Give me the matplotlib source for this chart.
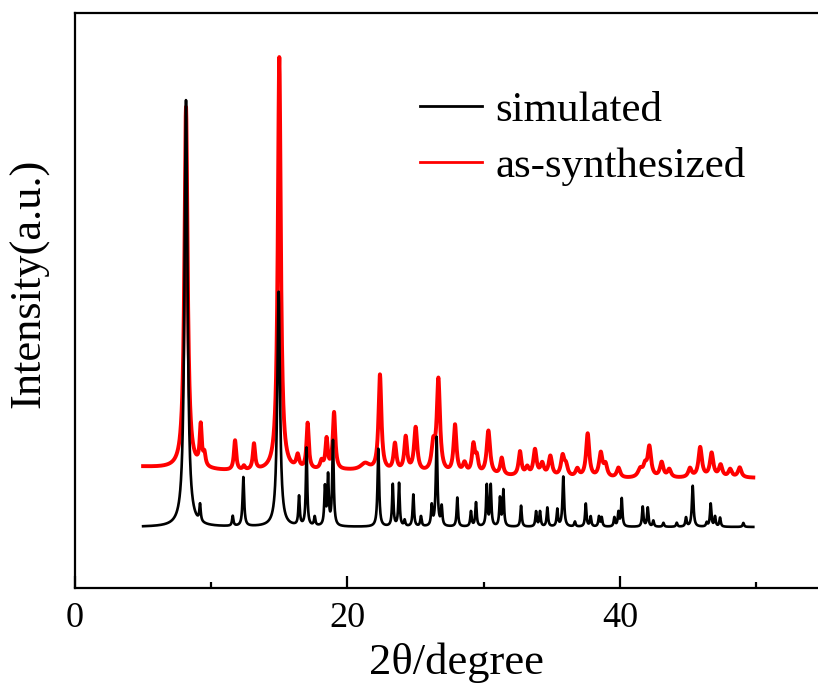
import numpy as np
import matplotlib
matplotlib.use("Agg")
import matplotlib.pyplot as plt

plt.rcParams['font.family'] = ['Liberation Serif', 'DejaVu Serif']

# ---- data (2theta in degrees, intensity in arbitrary units) ----
sim_pos = [8.15, 9.18, 11.58, 12.36, 14.95, 16.45, 17.0, 17.6, 18.35, 18.58, 18.94,
           22.27, 23.33, 23.79, 24.2, 24.84, 25.4, 26.19, 26.55, 26.92, 28.07, 29.07,
           29.44, 30.23, 30.52, 31.2, 31.45, 32.75, 33.85, 34.14, 34.68, 35.41, 35.85,
           36.7, 37.5, 37.86, 38.47, 38.67, 39.6, 39.9, 40.14, 41.68, 42.05, 42.46,
           43.2, 44.18, 44.86, 45.35, 46.38, 46.67, 46.99, 47.36, 49.07]
sim_int = [427, 17, 10, 49, 235, 29, 78, 9, 38, 49, 85,
           78, 42, 43, 6, 32, 10, 20, 89, 19, 29, 15,
           24, 41, 41, 28, 36, 21, 15, 15, 19, 17, 50,
           5, 23, 10, 10, 9, 9, 14, 28, 20, 19, 6,
           4, 4, 9, 41, 4, 23, 10, 9, 4]
sim_fwhm = [0.26, 0.12, 0.12, 0.14, 0.24, 0.12, 0.12, 0.12, 0.12, 0.12, 0.13,
            0.14, 0.12, 0.12, 0.12, 0.12, 0.12, 0.12, 0.14, 0.12, 0.12, 0.12,
            0.12, 0.12, 0.12, 0.12, 0.12, 0.12, 0.12, 0.12, 0.12, 0.12, 0.14,
            0.12, 0.12, 0.12, 0.12, 0.12, 0.12, 0.12, 0.12, 0.12, 0.12, 0.12,
            0.12, 0.12, 0.12, 0.14, 0.12, 0.12, 0.12, 0.12, 0.12]
sim_base = 61

exp_pos = [8.15, 9.23, 9.5, 11.75, 12.4, 13.14, 15.0, 16.35, 17.08, 18.1, 18.47, 19.02,
           21.3, 22.39, 23.49, 24.28, 25.01, 26.3, 26.68, 27.9, 28.6, 29.25, 29.5, 30.35,
           31.33, 32.67, 33.2, 33.77, 34.3, 34.9, 35.8, 36.05, 36.88, 37.64, 38.6, 38.95,
           39.9, 41.5, 41.85, 42.17, 43.07, 43.63, 45.15, 45.9, 46.74, 47.4, 48.1, 48.8]
exp_int = [362, 40, 12, 30, 4, 26, 414, 13, 46, 8, 30, 57,
           7, 96, 27, 34, 44, 25, 92, 48, 10, 28, 15, 44,
           17, 24, 8, 26, 12, 20, 20, 10, 8, 44, 24, 12,
           10, 8, 10, 30, 15, 8, 9, 30, 24, 12, 8, 10]
exp_fwhm = [0.28, 0.18, 0.2, 0.2, 0.2, 0.2, 0.26, 0.25, 0.2, 0.25, 0.2, 0.22,
            0.8, 0.25, 0.25, 0.25, 0.28, 0.3, 0.28, 0.25, 0.3, 0.25, 0.25, 0.3,
            0.25, 0.25, 0.3, 0.28, 0.3, 0.3, 0.3, 0.3, 0.3, 0.28, 0.3, 0.3,
            0.3, 0.4, 0.3, 0.3, 0.3, 0.3, 0.3, 0.3, 0.3, 0.3, 0.3, 0.3]
exp_base_x = [5, 12, 20, 30, 38, 50]
exp_base_y = [121, 116, 117, 112, 109, 110]

x_start, x_end = 5.0, 49.8


def profile(x, pos, inten, fwhm):
    y = np.zeros_like(x)
    for p, h, w in zip(pos, inten, fwhm):
        g = w / 2.0
        y += h * g ** 2 / ((x - p) ** 2 + g ** 2)
    return y


x = np.linspace(x_start, x_end, 4500)
y_sim = sim_base + profile(x, sim_pos, sim_int, sim_fwhm)
y_exp = np.interp(x, exp_base_x, exp_base_y) + profile(x, exp_pos, exp_int, exp_fwhm)

fig = plt.figure(figsize=(8.18, 6.86), dpi=100)
ax = fig.add_axes([75 / 818, 98 / 686, 1 - 75 / 818, 575 / 686])

ax.plot(x, y_exp, color='#ff0000', lw=2.8, label='as-synthesized', zorder=2)
ax.plot(x, y_sim, color='black', lw=1.9, label='simulated', zorder=3)

ax.set_xlim(0, 54.55)
ax.set_ylim(0, 575)

for s in ['left', 'bottom', 'top']:
    ax.spines[s].set_linewidth(1.6)
ax.spines['right'].set_visible(False)

ax.set_xticks([0, 20, 40])
ax.set_xticks([10, 30, 50], minor=True)
ax.set_yticks([])
ax.tick_params(axis='x', which='major', direction='in', length=8.5, width=1.6,
               labelsize=26, pad=10)
ax.tick_params(axis='x', which='minor', direction='in', length=4.5, width=1.6)

ax.set_xlabel('2θ/degree', fontsize=32)
ax.xaxis.set_label_coords(0.513, -0.094)
ax.set_ylabel('Intensity(a.u.)', fontsize=32)
ax.yaxis.set_label_coords(-0.035, 0.53)

handles, labels = ax.get_legend_handles_labels()
leg = ax.legend(handles[::-1], labels[::-1], loc='upper left', bbox_to_anchor=(0.435, 0.902),
                frameon=False, fontsize=31, borderpad=0, handlelength=1.45,
                handletextpad=0.3, labelspacing=0.39)
for line in leg.get_lines():
    line.set_linewidth(2.0)

fig.savefig('out.png', dpi=100)
